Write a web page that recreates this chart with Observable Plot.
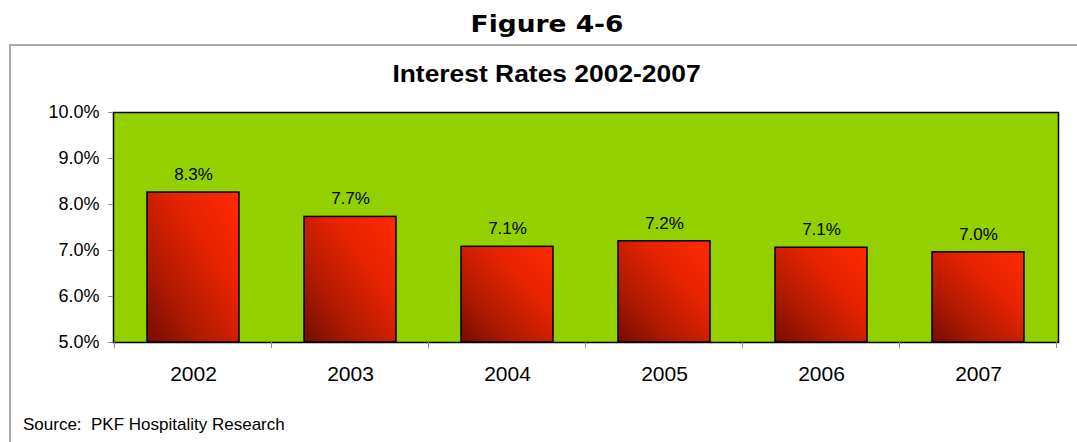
<!DOCTYPE html>
<html>
<head>
<meta charset="utf-8">
<script src="https://cdn.jsdelivr.net/npm/d3@7"></script>
<script src="https://cdn.jsdelivr.net/npm/@observablehq/plot@0.6"></script>
<style>
  html, body { margin: 0; padding: 0; background: #fff; }
  #wrap { position: relative; width: 1077px; height: 442px; overflow: hidden; background: #fff; }
  #figtitle { position: absolute; left: 0; top: 13px; width: 1094px; text-align: center;
    font-family: Verdana, "DejaVu Sans", sans-serif; font-weight: bold; font-size: 23px; line-height: 23px;
    color: #000; transform: scaleX(1.15); transform-origin: 547px 0; }
  #box { position: absolute; left: 9px; top: 44px; width: 1200px; height: 500px;
    border-left: 2px solid #a8a8a8; border-top: 2px solid #a8a8a8; }
  #ctitle { position: absolute; left: 0; top: 61.5px; width: 1093px; text-align: center;
    font-family: Arial, "Liberation Sans", sans-serif; font-weight: bold; font-size: 24px; line-height: 24px; color: #000;
    transform: scaleX(1.1); transform-origin: 546.5px 0; }
  #chart { position: absolute; left: 0; top: 95px; }
  #source { position: absolute; left: 23px; top: 416px; white-space: pre;
    font-family: Arial, "Liberation Sans", sans-serif; font-size: 17px; line-height: 17px; color: #000; }
</style>
</head>
<body>
<div id="wrap">
  <div id="figtitle">Figure 4-6</div>
  <div id="box"></div>
  <div id="ctitle">Interest Rates 2002-2007</div>
  <div id="chart"></div>
  <div id="source">Source:  PKF Hospitality Research</div>
</div>
<script>
const years = ["2002", "2003", "2004", "2005", "2006", "2007"];
const rates = [8.26, 7.73, 7.08, 7.20, 7.06, 6.96];
const rateLabels = ["8.3%", "7.7%", "7.1%", "7.2%", "7.1%", "7.0%"];
const yTicks = [5, 6, 7, 8, 9, 10];

const data = years.map((y, i) => ({year: y, rate: rates[i], label: rateLabels[i], base: yTicks[0]}));

// boundary tick marks under the x axis, drawn from the band scale
function bandBoundaryTicks(index, scales, values, dimensions) {
  const x = scales.x;
  const g = d3.create("svg:g");
  if (!x || typeof x.step !== "function") return g.node();
  const step = x.step(), bw = x.bandwidth();
  const dom = x.domain();
  const xs = dom.map(d => x(d) - (step - bw) / 2);
  xs.push(xs[xs.length - 1] + step);
  const y0 = dimensions.height - dimensions.marginBottom;
  g.selectAll("line").data(xs).join("line")
    .attr("x1", d => d).attr("x2", d => d)
    .attr("y1", y0).attr("y2", y0 + 6)
    .attr("stroke", "#8c8c8c").attr("stroke-width", 1);
  return g.node();
}

const chart = Plot.plot({
  width: 1077,
  height: 300,
  marginTop: 17,
  marginBottom: 53,
  marginLeft: 113,
  marginRight: 19,
  style: {fontFamily: "Arial, 'Liberation Sans', sans-serif", color: "#000", background: "transparent", overflow: "visible"},
  x: {domain: years, paddingInner: 0.416, paddingOuter: 0.208, label: null},
  y: {domain: [yTicks[0], yTicks[yTicks.length - 1]], label: null},
  marks: [
    Plot.frame({fill: "#92d000", stroke: "none"}),
    Plot.barY(data, {x: "year", y1: "base", y2: "rate", fill: "url(#barGrad)", stroke: "#000", strokeWidth: 1.5}),
    Plot.text(data, {x: "year", y: "rate", text: "label", dy: -18, fontSize: 17, fill: "#000"}),
    Plot.frame({stroke: "#000", strokeWidth: 1.5}),
    Plot.axisY({ticks: yTicks, tickFormat: d => d.toFixed(1) + "%", tickSize: 5, tickPadding: 9, stroke: "#8c8c8c", fontSize: 18, label: null}),
    Plot.axisX({tickSize: 0, tickPadding: 24, fontSize: 21, label: null}),
    bandBoundaryTicks
  ]
});

const defs = d3.select(chart).insert("defs", ":first-child");
const grad = defs.append("linearGradient").attr("id", "barGrad")
  .attr("x1", "0").attr("y1", "1").attr("x2", "1").attr("y2", "0");
[["0%", "#760c00"], ["30%", "#b01a00"], ["65%", "#e62300"], ["100%", "#ff2a00"]]
  .forEach(([o, c]) => grad.append("stop").attr("offset", o).attr("stop-color", c));

document.getElementById("chart").appendChild(chart);
</script>
</body>
</html>
